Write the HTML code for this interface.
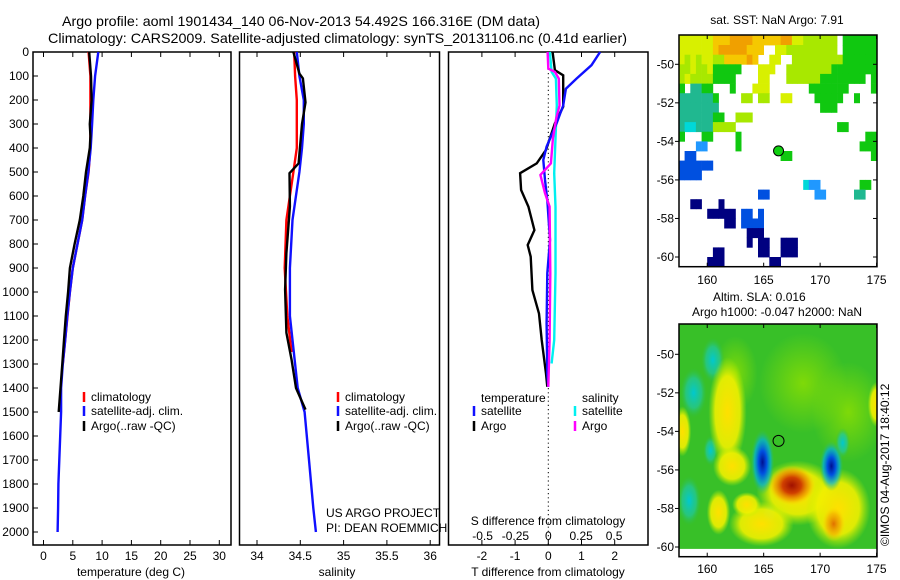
<!DOCTYPE html>
<html><head><meta charset="utf-8">
<style>
html,body{margin:0;padding:0;background:#fff;}
svg{display:block;font-family:"Liberation Sans",Arial,sans-serif;}
text{fill:#000;}
</style></head>
<body>
<svg id="fig" width="900" height="580" viewBox="0 0 900 580" xmlns="http://www.w3.org/2000/svg">
<defs>
<radialGradient id="gY"><stop offset="0" stop-color="#ffe000"/><stop offset="0.65" stop-color="#f0f000" stop-opacity="0.9"/><stop offset="1" stop-color="#c0f000" stop-opacity="0"/></radialGradient>
<radialGradient id="gO"><stop offset="0" stop-color="#e07000"/><stop offset="0.6" stop-color="#f5b000" stop-opacity="0.7"/><stop offset="1" stop-color="#ffe000" stop-opacity="0"/></radialGradient>
<radialGradient id="gR"><stop offset="0" stop-color="#a01000"/><stop offset="0.4" stop-color="#d04000"/><stop offset="0.75" stop-color="#f0a000" stop-opacity="0.7"/><stop offset="1" stop-color="#ffe000" stop-opacity="0"/></radialGradient>
<radialGradient id="gC"><stop offset="0" stop-color="#00c8d0"/><stop offset="0.6" stop-color="#20c8a0" stop-opacity="0.7"/><stop offset="1" stop-color="#30c040" stop-opacity="0"/></radialGradient>
<radialGradient id="gB"><stop offset="0" stop-color="#001090"/><stop offset="0.35" stop-color="#0050e0"/><stop offset="0.7" stop-color="#00b0e0" stop-opacity="0.7"/><stop offset="1" stop-color="#30c060" stop-opacity="0"/></radialGradient>
<radialGradient id="gL"><stop offset="0" stop-color="#90e000" stop-opacity="0.8"/><stop offset="1" stop-color="#90e000" stop-opacity="0"/></radialGradient>
</defs>
<text x="62" y="26" font-size="14" textLength="478" lengthAdjust="spacingAndGlyphs">Argo profile: aoml 1901434_140 06-Nov-2013 54.492S 166.316E (DM data)</text>
<text x="48" y="43" font-size="14" textLength="579" lengthAdjust="spacingAndGlyphs">Climatology: CARS2009. Satellite-adjusted climatology: synTS_20131106.nc (0.41d earlier)</text>
<g id="g"></g>
</svg>
<script>
// ---------- data ----------
const tDepthArgo = [0,100,200,300,350,400,500,600,700,800,900,1000,1100,1200,1300,1400,1500];
const tArgo      = [7.8,8.1,8.2,7.9,8.0,7.9,7.25,6.8,6.2,5.3,4.5,4.2,3.8,3.5,3.2,2.9,2.6];
const tDepthSat  = [0,100,200,300,400,500,600,700,800,900,1000,1100,1200,1300,1400,1500,1600,1700,1800,1900,2000];
const tSat       = [9.35,8.8,8.5,8.3,8.05,7.65,7.1,6.6,5.8,5.0,4.5,4.06,3.7,3.3,3.0,3.0,2.85,2.7,2.55,2.5,2.4];
const tDepthClim = [0,100,200,300,400,500,600,700,800,900,1000,1100,1200,1300];
const tClim      = [7.7,8.0,8.0,8.0,8.0,7.7,7.1,6.6,5.8,5.0,4.5,4.1,3.7,3.3];
const sDepthArgo = [0,90,110,210,300,464,505,644,838,990,1170,1283,1400,1490];
const sArgo      = [34.42,34.49,34.53,34.56,34.52,34.48,34.375,34.38,34.34,34.325,34.34,34.40,34.45,34.56];
const sDepthSat  = [0,100,200,300,400,500,700,900,1100,1300,1400,1500,1700,1900,2000];
const sSat       = [34.46,34.49,34.54,34.54,34.52,34.49,34.41,34.38,34.38,34.44,34.47,34.55,34.60,34.65,34.68];
const sDepthClim = [0,100,200,300,400,500,600,700,900,1100,1250];
const sClim      = [34.43,34.44,34.46,34.46,34.46,34.42,34.38,34.34,34.32,34.35,34.40];
const dDepthTArgo = [0,76,97,228,297,408,464,505,575,644,742,804,853,992,1090,1200,1340,1395];
const dTArgo      = [0.13,0.2,0.45,0.45,0.2,-0.07,-0.35,-0.85,-0.82,-0.6,-0.42,-0.62,-0.53,-0.48,-0.28,-0.2,-0.07,-0.03];
const dDepthTSat  = [0,55,111,153,223,297,394,450,533,617,783,922,1130,1340,1395];
const dTSat       = [1.56,1.3,0.85,0.53,0.45,0.25,-0.05,-0.15,-0.1,-0.03,0.05,-0.03,-0.05,-0.03,0];
const dDepthSSat  = [0,83,111,223,361,505,644,922,1200,1298];
const dSSat       = [0.012,0.025,0.058,0.065,0.055,0.045,0.055,0.055,0.045,0.025];
const dDepthSArgo = [0,69,83,111,223,277,361,464,512,588,644,922,1200,1395];
const dSArgo      = [-0.005,0,0.05,0.08,0.085,0.06,0.035,0.02,-0.06,-0.025,0.01,0.015,0.01,0];
const depthTicks = [0,100,200,300,400,500,600,700,800,900,1000,1100,1200,1300,1400,1500,1600,1700,1800,1900,2000];
const tempTicks = [0,5,10,15,20,25,30];
const salTicks = [34,34.5,35,35.5,36];
const salTickLabels = ["34","34.5","35","35.5","36"];
const dTTicks = [-2,-1,0,1,2];
const dSTicks = [-0.5,-0.25,0,0.25,0.5];
const dSTickLabels = ["-0.5","-0.25","0","0.25","0.5"];
const lonTicks = [160,165,170,175];
const latTicks = [-50,-52,-54,-56,-58,-60];
const sstRows = [
"YYYYYYyyyooooyyyyyooYYllllll.ggggggg",
"YYYYYYyoooooyyy..YYlllllllll.gggggg",
"YlYlYYllyyyyoy..YY..lllllllllgggggg",
"llYllYggggg...YYY..llllllllgggggggg",
"lYllllgggg....YY...llllllgggggggg.g",
"g.ttgg...g...YYY.......ggggggg....g",
"ttttttg....ll.ll..YY....ggggg..g...",
"ttttttt..................ggg.......",
"ttttttgg..lll......................",
"tcctttllll..................gg.....",
"g...gg....g......................gg",
"...bb.....g.....................ggg",
".BB...............gg..............g",
"BBBBBB.............................",
"BBBB...............................",
"......................cbb.......gg.",
"..............BB........bb.....tt..",
"..nn...n...........................",
".....nnnnn.BB.B....................",
"........nn.BBBB....................",
"............nnn....................",
"............n.nn..nnn..............",
"......nn......nn..nnn..............",
".....nnn........nn................."
];
const sstColors = {o:"#f0a000",y:"#f5c800",Y:"#d8f000",l:"#a8e800",g:"#10c810",G:"#00b040",t:"#20b890",c:"#00d8d8",b:"#2098ff",B:"#0050e0",n:"#000080"};
const slaLon  = [158.8,160.5,161.8,162.2,160.3,164.9,168.0,167.5,171.0,171.6,171.2,161.0,164.8,158.4,175.0,172.0,165.5,157.8,163.5,162.5,168.5,172.5];
const slaLat  = [-52.0,-50.3,-53.0,-55.8,-55.0,-55.6,-57.2,-56.8,-55.8,-58.0,-58.8,-58.2,-58.8,-57.6,-52.6,-54.6,-58.3,-54.0,-57.8,-51.0,-51.5,-53.0];
const slaRx   = [0.9,0.8,1.3,1.3,0.5,0.8,2.8,1.6,0.8,2.2,0.8,0.8,2.2,0.8,0.6,0.5,0.5,0.6,1.0,1.5,3.0,2.5];
const slaRy   = [1.0,0.9,2.2,0.8,0.6,1.3,1.3,0.8,1.0,1.6,0.7,0.9,0.9,1.0,0.9,0.6,0.4,1.0,0.5,1.5,2.0,2.0];
const slaKind = ["C","C","Y","Y","C","B","Y","R","B","Y","O","Y","Y","C","Y","C","C","Y","Y","L","L","L"];
// ---------- helpers ----------
const NS="http://www.w3.org/2000/svg";
const G=document.getElementById('g');
function mk(tag,attrs,name,inter){
  const el=document.createElementNS(NS,tag);
  for(const k in attrs) el.setAttribute(k,attrs[k]);
  
  
  G.appendChild(el);
  return el;
}
function txt(x,y,s,name,anchor,size){
  const el=mk('text',{x:x,y:y,'font-size':size||12,'text-anchor':anchor||'middle'},name);
  el.textContent=s;
  return el;
}
const Y0=52, DY=0.24;
const yD=d=>Y0+DY*d;
const xT=v=>43.5+5.86*v;
const xS=v=>257+86.6*(v-34);
const xDT=v=>548.3+33.2*v;
const xDS=v=>548.3+131.5*v;
function series(depths,vals,xf,color,name){
  const pts=depths.map((d,i)=>xf(vals[i]).toFixed(1)+','+yD(d).toFixed(1)).join(' ');
  mk('polyline',{points:pts,fill:'none',stroke:color,'stroke-width':2.4,'stroke-linejoin':'miter'},name);
}
function frame(x0,y0,x1,y1,name){
  mk('rect',{x:x0,y:y0,width:x1-x0,height:y1-y0,fill:'none',stroke:'#000','stroke-width':1.5},name);
}
const BOT=545;
// ---------- panel 1 ----------
frame(33,Y0,231,BOT,'temperature-panel-frame');
depthTicks.forEach(d=>{
  mk('line',{x1:33,y1:yD(d),x2:38,y2:yD(d),stroke:'#000'},'depth-tick');
  txt(29,yD(d)+4,String(d),'depth-tick-label','end');
});
tempTicks.forEach(v=>{
  mk('line',{x1:xT(v),y1:Y0,x2:xT(v),y2:Y0+5,stroke:'#000'},'temperature-top-tick');
  mk('line',{x1:xT(v),y1:BOT,x2:xT(v),y2:BOT-5,stroke:'#000'},'temperature-bottom-tick');
  txt(xT(v),560,String(v),'temperature-tick-label');
});
txt(131,576,'temperature (deg C)','temperature-axis-title');
series(tDepthClim,tClim,xT,'#ff0000','temperature-climatology-line');
series(tDepthSat,tSat,xT,'#1010ff','temperature-satellite-line');
series(tDepthArgo,tArgo,xT,'#000','temperature-argo-line');
function legend(mx,y,color,label,name){
  mk('line',{x1:mx,y1:y-6,x2:mx,y2:y+4,stroke:color,'stroke-width':2.5},name+'-marker');
  txt(mx+7,y+3,label,name+'-label','start');
}
legend(84,398,'#ff0000','climatology','temp-legend-climatology');
legend(84,412,'#1010ff','satellite-adj. clim.','temp-legend-satellite');
legend(84,427,'#000','Argo(..raw -QC)','temp-legend-argo');
// ---------- panel 2 ----------
frame(239.5,Y0,439.5,BOT,'salinity-panel-frame');
salTicks.forEach((v,i)=>{
  mk('line',{x1:xS(v),y1:Y0,x2:xS(v),y2:Y0+5,stroke:'#000'},'salinity-top-tick');
  mk('line',{x1:xS(v),y1:BOT,x2:xS(v),y2:BOT-5,stroke:'#000'},'salinity-bottom-tick');
  txt(xS(v),560,salTickLabels[i],'salinity-tick-label');
});
txt(337,576,'salinity','salinity-axis-title');
series(sDepthClim,sClim,xS,'#ff0000','salinity-climatology-line');
series(sDepthSat,sSat,xS,'#1010ff','salinity-satellite-line');
series(sDepthArgo,sArgo,xS,'#000','salinity-argo-line');
legend(338,398,'#ff0000','climatology','sal-legend-climatology');
legend(338,412,'#1010ff','satellite-adj. clim.','sal-legend-satellite');
legend(338,427,'#000','Argo(..raw -QC)','sal-legend-argo');
txt(326,517,'US ARGO PROJECT','project-credit','start');
txt(326,532,'PI: DEAN ROEMMICH','pi-credit','start');
// ---------- panel 3 ----------
mk('rect',{x:448.5,y:Y0,width:199.5,height:BOT-Y0,fill:'#fff',stroke:'#000','stroke-width':1.5},'difference-panel-frame');
mk('line',{x1:548.3,y1:Y0,x2:548.3,y2:BOT,stroke:'#000','stroke-dasharray':'1.2,3','stroke-width':1},'zero-line');
dTTicks.forEach(v=>{
  mk('line',{x1:xDT(v),y1:Y0,x2:xDT(v),y2:Y0+5,stroke:'#000'},'diff-top-tick');
  mk('line',{x1:xDT(v),y1:BOT,x2:xDT(v),y2:BOT-5,stroke:'#000'},'diff-bottom-tick');
  txt(xDT(v),560,String(v),'t-diff-tick-label');
});
dSTicks.forEach((v,i)=>{ txt(xDS(v),540,dSTickLabels[i],'s-diff-tick-label'); });
txt(548,525,'S difference from climatology','s-diff-axis-title');
txt(548,576,'T difference from climatology','t-diff-axis-title');
series(dDepthSSat,dSSat,xDS,'#00f0f0','s-diff-satellite-line');
series(dDepthTArgo,dTArgo,xDT,'#000','t-diff-argo-line');
series(dDepthTSat,dTSat,xDT,'#1010ff','t-diff-satellite-line');
series(dDepthSArgo,dSArgo,xDS,'#ff00ff','s-diff-argo-line');
txt(481,402,'temperature','diff-legend-temperature-heading','start');
txt(582,402,'salinity','diff-legend-salinity-heading','start');
legend(474,412,'#1010ff','satellite','diff-legend-t-satellite');
legend(474,427,'#000','Argo','diff-legend-t-argo');
legend(575,412,'#00f0f0','satellite','diff-legend-s-satellite');
legend(575,427,'#ff00ff','Argo','diff-legend-s-argo');
// ---------- maps ----------
const MX0=679, MX1=877, PXD=11.29;
const mxL=l=>MX0+(l-157.5)*PXD;
function map(lat50){ return l=>lat50+(-50-l)*19.27; }
const myS=map(64.3);
const sstTop=35, sstBot=266.7;
sstRows.forEach((row,r)=>{
  for(let c=0;c<35;c++){
    const ch=row[c];
    if(!ch||!sstColors[ch]) continue;
    const lat=-48.5-0.5*r, lon=157.5+0.5*c;
    mk('rect',{x:mxL(lon).toFixed(1),y:myS(lat).toFixed(1),width:(PXD*0.5+0.4).toFixed(1),height:(19.27*0.5+0.4).toFixed(1),fill:sstColors[ch]},'sst-cell');
  }
});
mk('circle',{cx:mxL(166.316),cy:myS(-54.492),r:5,fill:'#10d010',stroke:'#000','stroke-width':1},'sst-argo-location');
frame(MX0,sstTop,MX1,sstBot,'sst-map-frame');
txt(777,24,'sat. SST: NaN Argo: 7.91','sst-map-title');
lonTicks.forEach(v=>{
  mk('line',{x1:mxL(v),y1:sstTop,x2:mxL(v),y2:sstTop+4,stroke:'#000'},'sst-lon-tick');
  mk('line',{x1:mxL(v),y1:sstBot,x2:mxL(v),y2:sstBot-4,stroke:'#000'},'sst-lon-tick');
  txt(mxL(v),284,String(v),'sst-lon-label');
});
latTicks.forEach(v=>{
  mk('line',{x1:MX0,y1:myS(v),x2:MX0-4,y2:myS(v),stroke:'#000'},'sst-lat-tick');
  mk('line',{x1:MX1,y1:myS(v),x2:MX1-4,y2:myS(v),stroke:'#000'},'sst-lat-tick');
  txt(674,myS(v)+4,String(v),'sst-lat-label','end');
});
const myA=map(354.3);
const slaTop=324, slaBot=556.7;
mk('rect',{x:MX0,y:slaTop,width:MX1-MX0,height:(myA(-60.1)-slaTop).toFixed(1),fill:'#38c028'},'sla-background');
const kindFill={Y:'url(#gY)',O:'url(#gO)',R:'url(#gR)',C:'url(#gC)',B:'url(#gB)',L:'url(#gL)'};
const order=['L','C','Y','O','R','B'];
const svgClip=mk('clipPath',{id:'slaclip'},'sla-clip');
const cr=document.createElementNS(NS,'rect');
cr.setAttribute('x',MX0);cr.setAttribute('y',slaTop);cr.setAttribute('width',MX1-MX0);cr.setAttribute('height',myA(-60.1)-slaTop);


svgClip.appendChild(cr);
const blobG=mk('g',{'clip-path':'url(#slaclip)'},'sla-anomaly-layer');
order.forEach(k=>{
  slaLon.forEach((lon,i)=>{
    if(slaKind[i]!==k) return;
    const e=document.createElementNS(NS,'ellipse');
    e.setAttribute('cx',mxL(lon));e.setAttribute('cy',myA(slaLat[i]));
    e.setAttribute('rx',slaRx[i]*PXD*1.3);e.setAttribute('ry',slaRy[i]*19.27*1.3);
    e.setAttribute('fill',kindFill[k]);
    
    
    blobG.appendChild(e);
  });
});
mk('circle',{cx:mxL(166.316),cy:myA(-54.492),r:5.5,fill:'none',stroke:'#000','stroke-width':1},'sla-argo-location');
frame(MX0,slaTop,MX1,slaBot,'sla-map-frame');
txt(713,301,'Altim. SLA: 0.016','sla-map-title','start');
txt(777,316,'Argo h1000: -0.047 h2000: NaN','sla-map-subtitle');
lonTicks.forEach(v=>{
  mk('line',{x1:mxL(v),y1:slaTop,x2:mxL(v),y2:slaTop+4,stroke:'#000'},'sla-lon-tick');
  mk('line',{x1:mxL(v),y1:slaBot,x2:mxL(v),y2:slaBot-4,stroke:'#000'},'sla-lon-tick');
  txt(mxL(v),573,String(v),'sla-lon-label');
});
latTicks.forEach(v=>{
  mk('line',{x1:MX0,y1:myA(v),x2:MX0-4,y2:myA(v),stroke:'#000'},'sla-lat-tick');
  txt(674,myA(v)+4,String(v),'sla-lat-label','end');
});
const cp=txt(0,0,'©IMOS 04-Aug-2017 18:40:12','imos-credit','start');
cp.setAttribute('transform','translate(889,546) rotate(-90)');
</script>
</body></html>
